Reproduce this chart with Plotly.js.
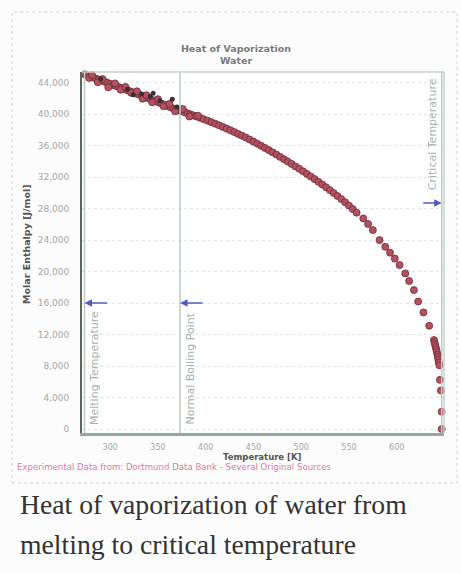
<!DOCTYPE html>
<html>
<head>
<meta charset="utf-8">
<script src="https://cdn.plot.ly/plotly-3.0.1.min.js"></script>
<style>
html,body{margin:0;padding:0;background:#fcfcfc;}
#chart{width:461px;height:573px;}
</style>
</head>
<body>
<div id="chart"></div>
<script>
// ---- data ----
const chartTitle = "Heat of Vaporization<br>Water";
const xTitle = "Temperature [K]";
const yTitle = "Molar Enthalpy [J/mol]";
const footer = "Experimental Data from: Dortmund Data Bank - Several Original Sources";
const caption1 = "Heat of vaporization of water from";
const caption2 = "melting to critical temperature";

const xTicks = [300, 350, 400, 450, 500, 550, 600];
const yTicks = [0, 4000, 8000, 12000, 16000, 20000, 24000, 28000, 32000, 36000, 40000, 44000];

const refNames = ["Melting Temperature", "Normal Boiling Point", "Critical Temperature"];
const refTemps = [273.15, 373.15, 647.1];
const arrowLevels = [16000, 16000, 28700];

// main (red) series: temperature [K], molar enthalpy [J/mol]
const tempRed = [273.2, 276, 279, 282, 285, 288, 291, 294, 297, 300, 303, 306, 309, 312, 315, 318, 321, 324, 327, 330,
  333, 336, 339, 342, 345, 348, 351, 354, 357, 360, 363, 366, 369, 372, 375, 378, 381, 384, 387, 390,
  394, 398, 402, 406, 410, 414, 418, 422, 426, 430, 434, 438, 442, 446, 450, 454, 458, 462, 466, 470,
  474, 478, 482, 486, 490, 494, 498, 502, 506, 510, 514, 518, 522, 526, 530, 534, 538, 542, 546, 550,
  554, 558, 565, 570, 575, 582, 588, 593, 598, 603, 609, 613, 618, 622.5, 628, 634,
  639, 639.6, 640.2, 640.8, 641.4, 642, 642.6, 643.1, 643.6, 644.1, 644.6, 645.2, 646.3, 647.0, 647.1,
  278, 281, 287, 292, 298, 305, 311, 316, 322, 328, 334, 338, 344, 350, 356, 362, 368, 376, 383, 392];
const enthRed = [45050, 44920, 44780, 44650, 44520, 44380, 44260, 44120, 43980, 43850, 43700, 43580, 43440, 43300, 43170, 43030, 42890, 42760, 42610, 42480,
  42330, 42190, 42050, 41900, 41760, 41620, 41470, 41330, 41180, 41030, 40880, 40730, 40580, 40450, 40360, 40230, 40100, 39970, 39840, 39710,
  39530, 39350, 39170, 38980, 38780, 38580, 38370, 38160, 37940, 37720, 37490, 37260, 37020, 36770, 36510, 36250, 35980, 35710, 35430, 35150,
  34860, 34570, 34270, 33970, 33670, 33360, 33050, 32730, 32410, 32080, 31750, 31410, 31060, 30710, 30350, 29980, 29600, 29210, 28800, 28380,
  27940, 27480, 26750, 26050, 25270, 24000, 23150, 22400, 21650, 20830, 19770, 18800, 17650, 16200, 14820, 13120,
  11300, 11000, 10700, 10400, 10100, 9800, 9450, 9150, 8800, 8450, 8100, 6250, 4900, 2200, 0,
  44600, 44950, 44050, 44450, 43400, 43900, 43100, 43450, 42700, 42900, 41950, 42400, 41500, 41900, 41000, 41300, 40350, 40650, 39700, 39800];

// darker (second source) points
const tempDark = [290, 318, 324, 333, 342, 345, 352, 365, 370];
const enthDark = [44450, 43150, 42450, 42550, 42250, 42650, 41700, 41900, 40900];

// ---- geometry ----
const W = 461, H = 573;
const M = {l: 82, r: 17, t: 72, b: 140};
const pw = W - M.l - M.r, ph = H - M.t - M.b;
const px = v => (v - M.l) / pw;          // pixel x -> paper x
const py = v => (H - M.b - v) / ph;      // pixel y -> paper y

const traces = [
  {x: tempRed, y: enthRed, type: 'scatter', mode: 'markers', name: 'exp',
   marker: {size: 7, color: '#b3525f', line: {width: 0.8, color: '#6f2a37'}}, showlegend: false, cliponaxis: false},
  {x: tempDark, y: enthDark, type: 'scatter', mode: 'markers', name: 'exp2',
   marker: {size: 5, color: '#3a3036', line: {width: 0}}, showlegend: false}
];

const shapes = [];
refTemps.forEach(t => shapes.push({type: 'line', xref: 'x', yref: 'paper', x0: t, x1: t, y0: 0, y1: 1,
  line: {color: '#b9cbc2', width: 1.5}}));
// plot frame (top/right)
shapes.push({type: 'line', xref: 'paper', yref: 'paper', x0: 0, x1: 1, y0: 1, y1: 1, line: {color: '#c3d2ca', width: 1.5}});
shapes.push({type: 'line', xref: 'paper', yref: 'paper', x0: 1, x1: 1, y0: 0, y1: 1, line: {color: '#c3d2ca', width: 1.5}});
// outer dotted frame
shapes.push({type: 'rect', xref: 'paper', yref: 'paper', x0: px(12), x1: px(457), y0: py(483), y1: py(12),
  line: {color: '#d4d4d4', width: 1, dash: 'dot'}});

const lblFont = {family: 'DejaVu Sans, sans-serif', size: 11, color: '#a3b3ab'};
const annotations = [
  {text: refNames[0], xref: 'x', yref: 'paper', x: refTemps[0], y: py(427), xanchor: 'left', yanchor: 'bottom',
   xshift: 1, textangle: -90, showarrow: false, font: lblFont},
  {text: refNames[1], xref: 'x', yref: 'paper', x: refTemps[1], y: py(427), xanchor: 'left', yanchor: 'bottom',
   xshift: 1, textangle: -90, showarrow: false, font: lblFont},
  {text: refNames[2], xref: 'x', yref: 'paper', x: refTemps[2], y: py(76), xanchor: 'right', yanchor: 'top',
   xshift: -1, textangle: -90, showarrow: false, font: lblFont},
  {text: '', xref: 'x', yref: 'y', x: refTemps[0], y: arrowLevels[0], ax: 24, ay: 0, showarrow: true,
   arrowhead: 2, arrowsize: 1, arrowwidth: 1.5, arrowcolor: '#4a5cc4', standoff: 0},
  {text: '', xref: 'x', yref: 'y', x: refTemps[1], y: arrowLevels[1], ax: 24, ay: 0, showarrow: true,
   arrowhead: 2, arrowsize: 1, arrowwidth: 1.5, arrowcolor: '#4a5cc4', standoff: 0},
  {text: '', xref: 'x', yref: 'y', x: refTemps[2], y: arrowLevels[2], ax: -20, ay: 0, showarrow: true,
   arrowhead: 2, arrowsize: 1, arrowwidth: 1.5, arrowcolor: '#4a5cc4', standoff: 0},
  {text: '<b>' + yTitle + '</b>', xref: 'paper', yref: 'paper', x: px(26), y: py(244), xanchor: 'center', yanchor: 'middle',
   textangle: -90, showarrow: false, font: {family: 'DejaVu Sans, sans-serif', size: 9.5, color: '#555'}},
  {text: '<b>' + xTitle + '</b>', xref: 'paper', yref: 'paper', x: px(262), y: py(457), xanchor: 'center', yanchor: 'middle',
   showarrow: false, font: {family: 'DejaVu Sans, sans-serif', size: 8.5, color: '#555'}},
  {text: footer, xref: 'paper', yref: 'paper', x: px(15), y: py(467), xanchor: 'left', yanchor: 'middle',
   showarrow: false, font: {family: 'DejaVu Sans, sans-serif', size: 8.6, color: '#e07a98'}},
  {text: caption1, xref: 'paper', yref: 'paper', x: px(18), y: py(504), xanchor: 'left', yanchor: 'middle',
   showarrow: false, font: {family: 'Liberation Serif, serif', size: 27.7, color: '#333'}},
  {text: caption2, xref: 'paper', yref: 'paper', x: px(18), y: py(544), xanchor: 'left', yanchor: 'middle',
   showarrow: false, font: {family: 'Liberation Serif, serif', size: 27.7, color: '#333'}}
];

const layout = {
  width: W, height: H,
  margin: M,
  paper_bgcolor: '#fcfcfc',
  plot_bgcolor: '#ffffff',
  showlegend: false,
  title: {text: '<b>' + chartTitle + '</b>', x: 236 / W, xanchor: 'center', xref: 'container',
          y: 1 - 52 / H, yanchor: 'middle', yref: 'container',
          font: {family: 'DejaVu Sans, sans-serif', size: 9.5, color: '#7a7a7a'}},
  xaxis: {range: [270.5, 649.5], tickvals: xTicks, ticktext: xTicks.map(String), showgrid: false, zeroline: false,
          showline: true, linecolor: '#93a9a3', linewidth: 3, ticks: '', ticklabelstandoff: 4,
          tickfont: {family: 'DejaVu Sans, sans-serif', size: 8, color: '#a0a8a6'}},
  yaxis: {range: [-500, 45350], tickvals: yTicks, tickformat: ',d', showgrid: true, gridcolor: '#dfe5e2', griddash: 'dot',
          gridwidth: 1, zeroline: false, showline: true, linecolor: '#5d6663', linewidth: 2, ticks: '', ticklabelstandoff: 9,
          tickfont: {family: 'DejaVu Sans, sans-serif', size: 9, color: '#a0a8a6'}},
  shapes: shapes,
  annotations: annotations
};

Plotly.newPlot('chart', traces, layout, {displayModeBar: false, staticPlot: true});
</script>
</body>
</html>
